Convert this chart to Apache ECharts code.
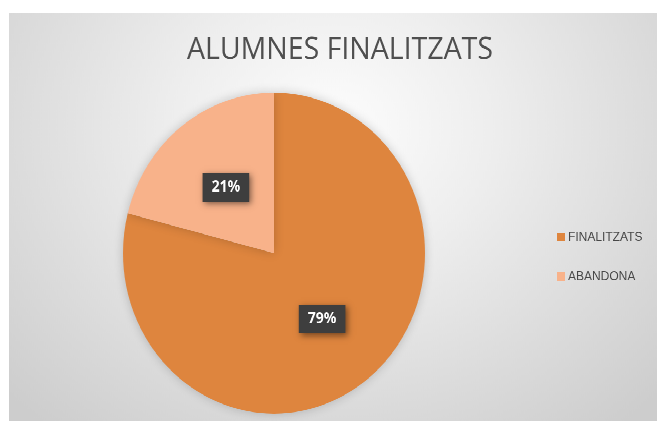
<!DOCTYPE html>
<html>
<head>
<meta charset="utf-8">
<script src="https://cdn.jsdelivr.net/npm/echarts@6/dist/echarts.min.js"></script>
<style>
html, body { margin: 0; padding: 0; background: #fff; width: 657px; height: 421px; overflow: hidden; }
#grafico {
    position: absolute; left: 9px; top: 13px; width: 648px; height: 384px;
    transform: scaleY(1.0625); transform-origin: 0 0;
    background: radial-gradient(ellipse 70% 95% at 50% 28%, #fdfdfd 0%, #eeeeee 35%, #dcdcdc 70%, #cdcdcd 100%);
}
</style>
</head>
<body>
<div id="grafico"></div>
<script>
// dades
var categories = ['FINALITZATS', 'ABANDONA'];
var valors = [79, 21];
var colors = ['#de853e', '#f8b28a'];

var chartDom = document.getElementById('grafico');
var myChart = echarts.init(chartDom, null, { devicePixelRatio: 2 });

var option = {
    backgroundColor: 'transparent',
    animation: false,
    title: {
        text: 'ALUMNES FINALITZATS',
        left: 178,
        top: 18,
        padding: 0,
        textStyle: {
            fontFamily: 'Open Sans',
            fontWeight: 'normal',
            fontSize: 28.5,
            lineHeight: 34,
            color: '#4f4f4f'
        }
    },
    legend: {
        orient: 'vertical',
        left: 548,
        top: 205,
        padding: 0,
        itemWidth: 8,
        itemHeight: 8,
        itemGap: 25,
        icon: 'rect',
        data: categories,
        textStyle: {
            fontFamily: 'Liberation Sans',
            fontSize: 12,
            color: '#474747',
            padding: [0, 0, 0, -2]
        }
    },
    series: [{
        type: 'pie',
        center: [265, 226],
        radius: 151,
        startAngle: 90,
        clockwise: true,
        silent: true,
        itemStyle: {
            borderWidth: 0,
            shadowBlur: 10,
            shadowColor: 'rgba(0,0,0,0.2)'
        },
        label: {
            position: 'inside',
            formatter: '{d}%',
            fontFamily: 'Open Sans',
            fontWeight: 'bold',
            fontSize: 14,
            color: '#ffffff',
            backgroundColor: '#3e3e3e',
            padding: [7, 9, 6, 9],
            shadowBlur: 6,
            shadowColor: 'rgba(0,0,0,0.5)',
            shadowOffsetX: 2,
            shadowOffsetY: 2
        },
        labelLine: { show: false },
        data: categories.map(function (c, i) {
            return { name: c, value: valors[i], itemStyle: { color: colors[i] } };
        })
    }]
};

myChart.setOption(option);
</script>
</body>
</html>
